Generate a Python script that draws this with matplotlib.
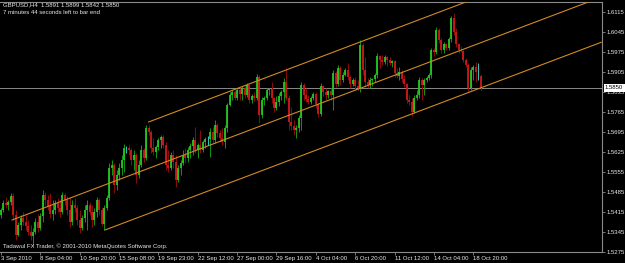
import matplotlib
matplotlib.use("Agg")
import matplotlib.pyplot as plt
import numpy as np

# GBPUSD H4 bars, 3 Sep 2010 .. 19 Oct 2010
opens = [
    1.5405, 1.5422, 1.5447, 1.5440, 1.5450, 1.5471, 1.5405, 1.5335, 1.5370, 1.5394,
    1.5380, 1.5366, 1.5345, 1.5331, 1.5345, 1.5380, 1.5359, 1.5401, 1.5475, 1.5457,
    1.5436, 1.5408, 1.5422, 1.5447, 1.5429, 1.5415, 1.5475, 1.5457, 1.5422, 1.5380,
    1.5440, 1.5429, 1.5387, 1.5359, 1.5394, 1.5422, 1.5440, 1.5415, 1.5387, 1.5415,
    1.5457, 1.5422, 1.5373, 1.5429, 1.5464, 1.5569, 1.5580, 1.5510, 1.5545, 1.5569,
    1.5597, 1.5639, 1.5639, 1.5632, 1.5597, 1.5615, 1.5545, 1.5580, 1.5632, 1.5604,
    1.5709, 1.5695, 1.5639, 1.5625, 1.5643, 1.5667, 1.5678, 1.5650, 1.5580, 1.5569,
    1.5615, 1.5590, 1.5527, 1.5569, 1.5587, 1.5615, 1.5604, 1.5632, 1.5646, 1.5667,
    1.5632, 1.5650, 1.5632, 1.5660, 1.5671, 1.5671, 1.5695, 1.5667, 1.5720, 1.5692,
    1.5674, 1.5660, 1.5709, 1.5790, 1.5825, 1.5835, 1.5814, 1.5842, 1.5828, 1.5849,
    1.5825, 1.5860, 1.5807, 1.5821, 1.5814, 1.5888, 1.5755, 1.5807, 1.5814, 1.5842,
    1.5846, 1.5814, 1.5779, 1.5800, 1.5821, 1.5835, 1.5870, 1.5814, 1.5730, 1.5716,
    1.5702, 1.5709, 1.5744, 1.5860, 1.5825, 1.5811, 1.5800, 1.5814, 1.5828, 1.5793,
    1.5758, 1.5856, 1.5835, 1.5825, 1.5839, 1.5825, 1.5902, 1.5863, 1.5919, 1.5877,
    1.5895, 1.5912, 1.5888, 1.5863, 1.5877, 1.5856, 1.5849, 1.5999, 1.5912, 1.5870,
    1.5860, 1.5877, 1.5881, 1.5895, 1.5961, 1.5947, 1.5940, 1.5958, 1.5947, 1.5937,
    1.5944, 1.5902, 1.5891, 1.5905, 1.5881, 1.5863, 1.5807, 1.5800, 1.5765, 1.5814,
    1.5825, 1.5877, 1.5860, 1.5877, 1.5884, 1.5895, 1.5982, 1.5975, 1.6052, 1.6017,
    1.5982, 1.6003, 1.5989, 1.6020, 1.6094, 1.6045, 1.6003, 1.5982, 1.5979, 1.5947,
    1.5930, 1.5849, 1.5912, 1.5923, 1.5905, 1.5891,
]
highs = [
    1.5429, 1.5457, 1.5468, 1.5457, 1.5482, 1.5482, 1.5422, 1.5380, 1.5405, 1.5415,
    1.5405, 1.5387, 1.5370, 1.5359, 1.5394, 1.5408, 1.5412, 1.5492, 1.5485, 1.5475,
    1.5482, 1.5457, 1.5457, 1.5464, 1.5457, 1.5485, 1.5482, 1.5471, 1.5468, 1.5457,
    1.5464, 1.5440, 1.5422, 1.5405, 1.5440, 1.5457, 1.5450, 1.5440, 1.5429, 1.5468,
    1.5464, 1.5433, 1.5440, 1.5475, 1.5587, 1.5597, 1.5587, 1.5562, 1.5587, 1.5615,
    1.5653, 1.5646, 1.5650, 1.5639, 1.5632, 1.5622, 1.5597, 1.5650, 1.5639, 1.5720,
    1.5720, 1.5702, 1.5674, 1.5650, 1.5674, 1.5685, 1.5685, 1.5660, 1.5632, 1.5625,
    1.5632, 1.5615, 1.5580, 1.5597, 1.5632, 1.5639, 1.5643, 1.5657, 1.5678, 1.5713,
    1.5657, 1.5702, 1.5667, 1.5678, 1.5681, 1.5709, 1.5713, 1.5737, 1.5727, 1.5702,
    1.5709, 1.5720, 1.5797, 1.5835, 1.5842, 1.5842, 1.5849, 1.5849, 1.5856, 1.5860,
    1.5867, 1.5863, 1.5828, 1.5835, 1.5898, 1.5895, 1.5818, 1.5821, 1.5849, 1.5849,
    1.5870, 1.5818, 1.5821, 1.5832, 1.5842, 1.5884, 1.5919, 1.5825, 1.5783, 1.5737,
    1.5720, 1.5755, 1.5870, 1.5867, 1.5849, 1.5825, 1.5821, 1.5835, 1.5835, 1.5797,
    1.5867, 1.5860, 1.5849, 1.5842, 1.5849, 1.5912, 1.5909, 1.5930, 1.5926, 1.5905,
    1.5919, 1.5937, 1.5895, 1.5884, 1.5888, 1.5877, 1.6017, 1.6007, 1.5958, 1.5884,
    1.5888, 1.5884, 1.5902, 1.5972, 1.5965, 1.5965, 1.5965, 1.5961, 1.5958, 1.5947,
    1.5947, 1.5919, 1.5923, 1.5912, 1.5895, 1.5867, 1.5825, 1.5814, 1.5825, 1.5842,
    1.5888, 1.5884, 1.5884, 1.5891, 1.5902, 1.5989, 1.5989, 1.6063, 1.6059, 1.6024,
    1.6010, 1.6007, 1.6027, 1.6101, 1.6111, 1.6059, 1.6007, 1.5996, 1.5982, 1.5954,
    1.5937, 1.5923, 1.5930, 1.5940, 1.5937, 1.5899,
]
lows = [
    1.5394, 1.5415, 1.5429, 1.5422, 1.5440, 1.5387, 1.5317, 1.5331, 1.5352, 1.5370,
    1.5352, 1.5335, 1.5317, 1.5296, 1.5338, 1.5345, 1.5352, 1.5380, 1.5440, 1.5422,
    1.5394, 1.5387, 1.5408, 1.5415, 1.5398, 1.5408, 1.5440, 1.5405, 1.5362, 1.5370,
    1.5415, 1.5370, 1.5342, 1.5352, 1.5380, 1.5352, 1.5405, 1.5362, 1.5370, 1.5398,
    1.5405, 1.5366, 1.5352, 1.5422, 1.5457, 1.5545, 1.5482, 1.5492, 1.5527, 1.5545,
    1.5555, 1.5622, 1.5615, 1.5580, 1.5562, 1.5517, 1.5534, 1.5573, 1.5590, 1.5597,
    1.5685, 1.5622, 1.5615, 1.5604, 1.5632, 1.5639, 1.5639, 1.5562, 1.5555, 1.5562,
    1.5569, 1.5503, 1.5520, 1.5545, 1.5580, 1.5587, 1.5590, 1.5604, 1.5615, 1.5622,
    1.5604, 1.5622, 1.5625, 1.5639, 1.5650, 1.5608, 1.5657, 1.5657, 1.5678, 1.5660,
    1.5650, 1.5639, 1.5695, 1.5786, 1.5807, 1.5807, 1.5807, 1.5807, 1.5807, 1.5814,
    1.5818, 1.5797, 1.5797, 1.5804, 1.5807, 1.5727, 1.5744, 1.5790, 1.5807, 1.5825,
    1.5797, 1.5765, 1.5772, 1.5786, 1.5807, 1.5797, 1.5807, 1.5702, 1.5702, 1.5685,
    1.5674, 1.5695, 1.5702, 1.5807, 1.5800, 1.5793, 1.5793, 1.5807, 1.5779, 1.5748,
    1.5751, 1.5821, 1.5807, 1.5814, 1.5807, 1.5772, 1.5853, 1.5856, 1.5860, 1.5870,
    1.5891, 1.5877, 1.5849, 1.5856, 1.5842, 1.5842, 1.5835, 1.5895, 1.5853, 1.5849,
    1.5849, 1.5856, 1.5870, 1.5884, 1.5919, 1.5930, 1.5933, 1.5926, 1.5930, 1.5923,
    1.5888, 1.5884, 1.5877, 1.5870, 1.5853, 1.5797, 1.5790, 1.5751, 1.5762, 1.5807,
    1.5814, 1.5807, 1.5825, 1.5870, 1.5877, 1.5884, 1.5961, 1.5968, 1.6007, 1.5972,
    1.5972, 1.5982, 1.5982, 1.6010, 1.6034, 1.5992, 1.5972, 1.5975, 1.5940, 1.5923,
    1.5835, 1.5842, 1.5877, 1.5870, 1.5877, 1.5842,
]
closes = [
    1.5422, 1.5447, 1.5440, 1.5450, 1.5471, 1.5405, 1.5335, 1.5370, 1.5394, 1.5380,
    1.5366, 1.5345, 1.5331, 1.5345, 1.5380, 1.5359, 1.5401, 1.5475, 1.5457, 1.5436,
    1.5408, 1.5422, 1.5447, 1.5429, 1.5415, 1.5475, 1.5457, 1.5422, 1.5380, 1.5440,
    1.5429, 1.5387, 1.5359, 1.5394, 1.5422, 1.5440, 1.5415, 1.5387, 1.5415, 1.5457,
    1.5422, 1.5373, 1.5429, 1.5464, 1.5569, 1.5580, 1.5510, 1.5545, 1.5569, 1.5597,
    1.5639, 1.5639, 1.5632, 1.5597, 1.5615, 1.5545, 1.5580, 1.5632, 1.5604, 1.5709,
    1.5695, 1.5639, 1.5625, 1.5643, 1.5667, 1.5678, 1.5650, 1.5580, 1.5569, 1.5615,
    1.5590, 1.5527, 1.5569, 1.5587, 1.5615, 1.5604, 1.5632, 1.5646, 1.5667, 1.5632,
    1.5650, 1.5632, 1.5660, 1.5671, 1.5671, 1.5695, 1.5667, 1.5720, 1.5692, 1.5674,
    1.5660, 1.5709, 1.5790, 1.5825, 1.5835, 1.5814, 1.5842, 1.5828, 1.5849, 1.5825,
    1.5860, 1.5807, 1.5821, 1.5814, 1.5888, 1.5755, 1.5807, 1.5814, 1.5842, 1.5846,
    1.5814, 1.5779, 1.5800, 1.5821, 1.5835, 1.5870, 1.5814, 1.5730, 1.5716, 1.5702,
    1.5709, 1.5744, 1.5860, 1.5825, 1.5811, 1.5800, 1.5814, 1.5828, 1.5793, 1.5758,
    1.5856, 1.5835, 1.5825, 1.5839, 1.5825, 1.5902, 1.5863, 1.5919, 1.5877, 1.5895,
    1.5912, 1.5888, 1.5863, 1.5877, 1.5856, 1.5849, 1.5999, 1.5912, 1.5870, 1.5860,
    1.5877, 1.5881, 1.5895, 1.5961, 1.5947, 1.5940, 1.5958, 1.5947, 1.5937, 1.5944,
    1.5902, 1.5891, 1.5905, 1.5881, 1.5863, 1.5807, 1.5800, 1.5765, 1.5814, 1.5825,
    1.5877, 1.5860, 1.5877, 1.5884, 1.5895, 1.5982, 1.5975, 1.6052, 1.6017, 1.5982,
    1.6003, 1.5989, 1.6020, 1.6094, 1.6045, 1.6003, 1.5982, 1.5979, 1.5947, 1.5930,
    1.5849, 1.5912, 1.5923, 1.5905, 1.5905, 1.5850,
]

# time axis labels, one every 16 bars
time_labels = ["3 Sep 2010", "8 Sep 04:00", "10 Sep 20:00", "15 Sep 08:00",
               "19 Sep 23:00", "22 Sep 12:00", "27 Sep 00:00", "29 Sep 16:00",
               "4 Oct 04:00", "6 Oct 20:00", "11 Oct 12:00", "14 Oct 04:00",
               "18 Oct 20:00"]
price_ticks = [1.5275, 1.5345, 1.5415, 1.5485, 1.5555, 1.5625, 1.5695,
               1.5765, 1.5835, 1.5905, 1.5975, 1.6045, 1.6115]

# channel lines: (start bar, start price, end bar, end price)
chan_upper = (60, 1.5730, 244, 1.6329)
chan_mid = (4.5, 1.5387, 244, 1.6167)
chan_lower = (42.3, 1.5352, 244, 1.6009)

symbol = "GBPUSD,H4"
bid = 1.5850

BG = "black"
FG = "#e8e8e8"
GRID = "#8a8a8a"
UP, UP_W = "#22c81e", "#129612"
DN, DN_W = "#d01818", "#8c0c0c"
DOJI = "#30c8c8"
CHAN = "#d08a24"
FONT = "Liberation Sans"
FS = 4.3

fig = plt.figure(figsize=(6.25, 2.63), dpi=100, facecolor=BG)
ax = fig.add_axes([0.0, 11 / 263, 601.7 / 625, 250.3 / 263], facecolor=BG)

o = np.array(opens)
h = np.array(highs)
l = np.array(lows)
c = np.array(closes)
x = np.arange(len(o))

up = c > o
dn = c < o
dj = c == o

for mask, body_col, wick_col in [(up, UP, UP_W), (dn, DN, DN_W), (dj, DOJI, DOJI)]:
    ax.vlines(x[mask], l[mask], h[mask], color=wick_col, lw=0.7, zorder=3)
    ax.vlines(x[mask], np.minimum(o, c)[mask], np.maximum(o, c)[mask],
              color=body_col, lw=1.3, zorder=4)

for x0, y0, x1, y1 in [chan_upper, chan_mid, chan_lower]:
    ax.plot([x0, x1], [y0, y1], color=CHAN, lw=0.8, zorder=5)

ax.axhline(bid, color=GRID, lw=0.7, zorder=2)

ax.set_xlim(-0.4, 244.2)
ax.set_ylim(1.52755, 1.6151)

for side in ["left"]:
    ax.spines[side].set_visible(False)
for side in ["right", "bottom", "top"]:
    ax.spines[side].set_color(GRID)
    ax.spines[side].set_linewidth(0.8)

ax.yaxis.tick_right()
ax.set_yticks(price_ticks)
ax.set_yticklabels(["%.4f" % p for p in price_ticks])
ax.set_xticks(np.arange(len(time_labels)) * 16)
ax.set_xticklabels(time_labels)
ax.tick_params(axis="both", colors=GRID, labelcolor=FG, labelsize=FS,
               length=2.2, width=0.6)
ax.tick_params(axis="y", pad=1.2)
ax.tick_params(axis="x", pad=0.8)
for lbl in ax.get_xticklabels():
    lbl.set_ha("left")
    lbl.set_family(FONT)
for lbl in ax.get_yticklabels():
    lbl.set_family(FONT)

# current price tag on the price scale
ax.annotate("%.4f" % bid, xy=(1.0, bid), xycoords=("axes fraction", "data"),
            xytext=(2.4, 0), textcoords="offset points", ha="left", va="center",
            fontsize=FS, family=FONT, color="black", zorder=10,
            bbox=dict(boxstyle="square,pad=0.25", fc="white", ec="none"),
            annotation_clip=False)

header = "%s  %.4f %.4f %.4f %.4f" % (symbol, opens[-1], highs[-1], lows[-1], closes[-1])
fig.text(3 / 625, 1 - 5 / 263, header, color=FG, fontsize=FS, family=FONT, va="center")
fig.text(3 / 625, 1 - 12 / 263, "7 minutes 44 seconds left to bar end",
         color=FG, fontsize=FS, family=FONT, va="center")
fig.text(3 / 625, 1 - 246 / 263, "Tadawul FX Trader, \u00a9 2001-2010 MetaQuotes Software Corp.",
         color=FG, fontsize=FS, family=FONT, va="center")

fig.savefig("out.png", dpi=100, facecolor=BG)
